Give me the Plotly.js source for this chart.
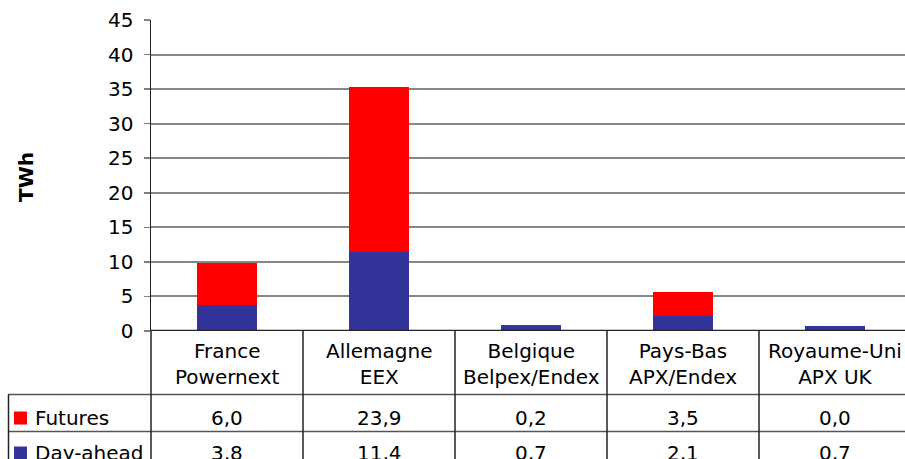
<!DOCTYPE html>
<html>
<head>
<meta charset="utf-8">
<script src="https://cdn.plot.ly/plotly-3.0.1.min.js"></script>
<style>html,body{margin:0;padding:0;background:#fff;}#chart{width:905px;height:459px;}</style>
</head>
<body>
<div id="chart"></div>
<script>
const categories = ["France<br>Powernext", "Allemagne<br>EEX", "Belgique<br>Belpex/Endex", "Pays-Bas<br>APX/Endex", "Royaume-Uni<br>APX UK"];
const seriesNames = ["Futures", "Day-ahead"];
const futures = [6.0, 23.9, 0.2, 3.5, 0.0];
const dayAhead = [3.8, 11.4, 0.7, 2.1, 0.7];
const colors = {"Futures": "#FF0000", "Day-ahead": "#333399"};
const yTicks = [0, 5, 10, 15, 20, 25, 30, 35, 40, 45];
const yTitle = "TWh";

const FONT = "DejaVu Sans, Verdana, sans-serif";
const FS = 20;
const W = 905, H = 459;
const mL = 151, mT = 20, mB = 128, mR = 0;
const plotW = W - mL - mR, plotH = H - mT - mB;
const px2py = p => (H - mB - p) / plotH;   // pixel y -> paper y
const px2px = q => (q - mL) / plotW;       // pixel x -> paper x
const catPx = 152;

const idx = categories.map((c, i) => i);

const traces = [
  {type: "bar", name: "Day-ahead", x: idx, y: dayAhead, marker: {color: colors["Day-ahead"]}, hoverinfo: "none"},
  {type: "bar", name: "Futures", x: idx, y: futures, marker: {color: colors["Futures"]}, hoverinfo: "none"}
];

const fmt = v => v.toFixed(1).replace(".", ",");
const lineCol = "#222222";
const shapes = [];
const annotations = [];

// table horizontal lines
[394.5, 431.5].forEach(p => {
  shapes.push({type: "line", xref: "paper", yref: "paper", x0: px2px(8), x1: 1.05, y0: px2py(p), y1: px2py(p), line: {color: "#555555", width: 1.5}});
});
// left border of legend column
shapes.push({type: "line", xref: "paper", yref: "paper", x0: px2px(8.5), x1: px2px(8.5), y0: px2py(394.5), y1: px2py(470), line: {color: lineCol, width: 1.5}});
// axis vertical extension
shapes.push({type: "line", xref: "paper", yref: "paper", x0: 0, x1: 0, y0: 0, y1: px2py(470), line: {color: lineCol, width: 1.5}});
// category separators
for (let i = 0; i < categories.length; i++) {
  shapes.push({type: "line", xref: "x", yref: "paper", x0: i + 0.5, x1: i + 0.5, y0: 0, y1: px2py(470), line: {color: lineCol, width: 1.5}});
}
// legend keys
const rowCenters = {"Futures": 417.5, "Day-ahead": 452.5};
seriesNames.forEach(n => {
  const c = rowCenters[n];
  shapes.push({type: "rect", xref: "paper", yref: "paper", x0: px2px(14), x1: px2px(27), y0: px2py(c - 6), y1: px2py(c + 7), fillcolor: colors[n], line: {width: 0}});
  annotations.push({xref: "paper", yref: "paper", x: px2px(33), y: px2py(c), xanchor: "left", yanchor: "middle", text: n, showarrow: false, font: {family: FONT, size: FS, color: "#000"}});
});
// values
const rows = {"Futures": futures, "Day-ahead": dayAhead};
seriesNames.forEach(n => {
  rows[n].forEach((v, i) => {
    annotations.push({xref: "x", yref: "paper", x: i, y: px2py(rowCenters[n]), xanchor: "center", yanchor: "middle", text: fmt(v), showarrow: false, font: {family: FONT, size: FS, color: "#000"}});
  });
});
// category labels row
categories.forEach((c, i) => {
  annotations.push({xref: "x", yref: "paper", x: i, y: px2py(363.5), xanchor: "center", yanchor: "middle", text: c, showarrow: false, font: {family: FONT, size: FS, color: "#000"}});
});
// y title
annotations.push({xref: "paper", yref: "paper", x: px2px(26), y: px2py(177), xanchor: "center", yanchor: "middle", textangle: -90, text: "<b>" + yTitle + "</b>", showarrow: false, font: {family: FONT, size: FS, color: "#000"}});

const layout = {
  width: W, height: H,
  margin: {l: mL, r: mR, t: mT, b: mB, pad: 0},
  paper_bgcolor: "#fff", plot_bgcolor: "#fff",
  barmode: "stack", bargap: 0.6,
  showlegend: false,
  xaxis: {range: [-0.5, -0.5 + plotW / catPx], showticklabels: false, showgrid: false, zeroline: false, ticks: "", fixedrange: true, showline: false},
  yaxis: {range: [0, 45], tickvals: yTicks, ticktext: yTicks.map(String), ticks: "outside", ticklen: 6, tickwidth: 1.5, tickcolor: "#808080",
          showgrid: true, gridcolor: "#868686", gridwidth: 2, zeroline: false, showline: true, linecolor: lineCol, linewidth: 1.5,
          tickfont: {family: FONT, size: FS, color: "#000"}, ticklabelstandoff: 6},
  shapes: shapes.concat([{type: "line", xref: "paper", yref: "y", x0: 0, x1: 1, y0: 0, y1: 0, line: {color: lineCol, width: 2.5}}]),
  annotations: annotations
};
Plotly.newPlot("chart", traces, layout, {displayModeBar: false, staticPlot: true});
</script>
</body>
</html>
